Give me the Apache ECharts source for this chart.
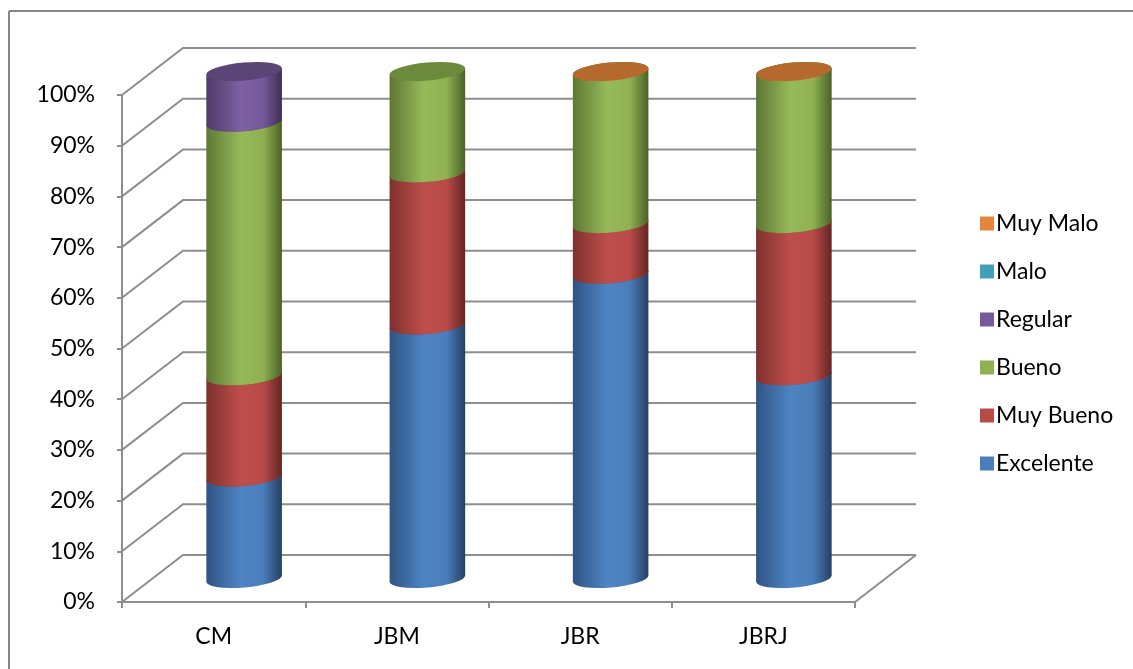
<!DOCTYPE html>
<html>
<head>
<meta charset="utf-8">
<style>
  html, body { margin: 0; background: #fff; }
  #chart { width: 1133px; height: 669px; }
</style>
<script src="https://cdn.jsdelivr.net/npm/echarts@6.0.0/dist/echarts.min.js"></script>
</head>
<body>
<div id="chart"></div>
<script>
const categories = ['CM', 'JBM', 'JBR', 'JBRJ']
const yTicks = [0, 10, 20, 30, 40, 50, 60, 70, 80, 90, 100]

const excelente = [20, 50, 60, 40]
const muyBueno = [20, 30, 10, 30]
const bueno = [50, 20, 30, 30]
const regular = [10, null, null, null]
const malo = [null, null, null, null]
const muyMalo = [null, null, 0, 0]

const seriesNames = ['Excelente', 'Muy Bueno', 'Bueno', 'Regular', 'Malo', 'Muy Malo']
const seriesValues = [excelente, muyBueno, bueno, regular, malo, muyMalo]

// legend colour, left edge, highlight, right edge, top cap
const shades = [
  ['#4a7ebb', '#2f5384', '#4e84c2', '#263f63', '#3b6498'],
  ['#b84b48', '#7e302e', '#bd4e4b', '#642523', '#963d3a'],
  ['#8fb151', '#5d7732', '#96b95a', '#4b6128', '#6b8a3c'],
  ['#76599b', '#4e3a69', '#7d60a2', '#3e2e54', '#5b4577'],
  ['#419fb8', '#2a6a7c', '#47aac4', '#215562', '#337f93'],
  ['#e3863c', '#a45b22', '#e68b42', '#8a4c1c', '#b5692c']
]

const DX = 61, DY = -47, RY = 9, TILT = -5
const GRID = '#8e8e8e'
const FONT = 'Lato'

let chart = echarts.init(document.getElementById('chart'))

function segmentItem(params, api) {
  let c = api.value(0)
  let pb = api.coord([c, api.value(1)])
  let pt = api.coord([c, api.value(2)])
  let rx = api.size([1, 0])[0] * 0.207
  let cx = pb[0] + DX / 2
  let yb = pb[1] + DY / 2
  let yt = pt[1] + DY / 2
  let a = TILT * Math.PI / 180
  let ex = rx * Math.cos(a), ey = rx * Math.sin(a)
  let sh = shades[params.seriesIndex - 1]
  let body = `M${cx - ex} ${yt - ey} L${cx - ex} ${yb - ey} A${rx} ${RY} ${TILT} 0 0 ${cx + ex} ${yb + ey} L${cx + ex} ${yt + ey} Z`
  let cap = `M${cx - ex} ${yt - ey} A${rx} ${RY} ${TILT} 0 0 ${cx + ex} ${yt + ey} A${rx} ${RY} ${TILT} 0 0 ${cx - ex} ${yt - ey} Z`
  return {
    type: 'group',
    children: [
      {
        type: 'path',
        shape: { pathData: body },
        style: {
          fill: {
            type: 'linear', x: 0, y: 0, x2: 1, y2: 0,
            colorStops: [
              { offset: 0, color: sh[1] },
              { offset: 0.45, color: sh[2] },
              { offset: 0.75, color: sh[0] },
              { offset: 1, color: sh[3] }
            ]
          }
        }
      },
      { type: 'path', shape: { pathData: cap }, style: { fill: sh[4] } }
    ]
  }
}

function frameItem(params, api) {
  let cs = params.coordSys
  let v = api.value(1)
  let y = api.coord([0, v])[1]
  let x = cs.x, w = cs.width
  let style = { stroke: GRID, lineWidth: 2, fill: null }
  let children = [
    { type: 'polyline', shape: { points: [[x, y], [x + DX, y + DY], [x + w + DX, y + DY]] }, style }
  ]
  if (v === 0) {
    children.push({ type: 'line', shape: { x1: x + w, y1: y, x2: x + w + DX, y2: y + DY }, style })
  }
  return { type: 'group', children }
}

let base = categories.map(() => 0)
let cylinders = seriesNames.map((name, i) => {
  let data = []
  seriesValues[i].forEach((v, c) => {
    if (v === null) return
    data.push([c, base[c], base[c] + v])
    base[c] += v
  })
  return {
    name,
    type: 'custom',
    z: 3 + i,
    itemStyle: { color: shades[i][0] },
    encode: { x: 0, y: [1, 2] },
    renderItem: segmentItem,
    data
  }
})

chart.setOption({
  animation: false,
  backgroundColor: '#fff',
  graphic: [
    { type: 'line', shape: { x1: 9, y1: 11, x2: 9, y2: 669 }, style: { stroke: '#868686', lineWidth: 2 } },
    { type: 'line', shape: { x1: 9, y1: 11, x2: 1133, y2: 11 }, style: { stroke: '#868686', lineWidth: 2 } }
  ],
  grid: { left: 122, right: 278, top: 95, bottom: 67 },
  legend: {
    data: seriesNames.slice().reverse(),
    orient: 'vertical',
    left: 975,
    top: 207,
    icon: 'rect',
    itemWidth: 14,
    itemHeight: 14,
    itemGap: 25,
    selectedMode: false,
    textStyle: { fontFamily: FONT, fontSize: 23, color: '#000', padding: [0, 0, 0, -3] }
  },
  xAxis: {
    type: 'category',
    data: categories,
    axisLine: { lineStyle: { color: GRID, width: 2 } },
    axisTick: { show: true, length: 6, lineStyle: { color: GRID, width: 2 } },
    axisLabel: { fontFamily: FONT, fontSize: 23, color: '#000', margin: 23 },
    splitLine: { show: false }
  },
  yAxis: {
    type: 'value',
    min: 0,
    max: 100,
    interval: 10,
    axisLine: { show: true, lineStyle: { color: GRID, width: 2 } },
    axisTick: { show: true, length: 5, lineStyle: { color: GRID, width: 2 } },
    axisLabel: { fontFamily: FONT, fontSize: 23, color: '#000', margin: 27, formatter: '{value}%' },
    splitLine: { show: false }
  },
  series: [
    {
      type: 'custom',
      silent: true,
      z: 1,
      encode: { x: 0, y: 1 },
      renderItem: frameItem,
      data: yTicks.map(t => [0, t])
    },
    ...cylinders
  ]
})
</script>
</body>
</html>
